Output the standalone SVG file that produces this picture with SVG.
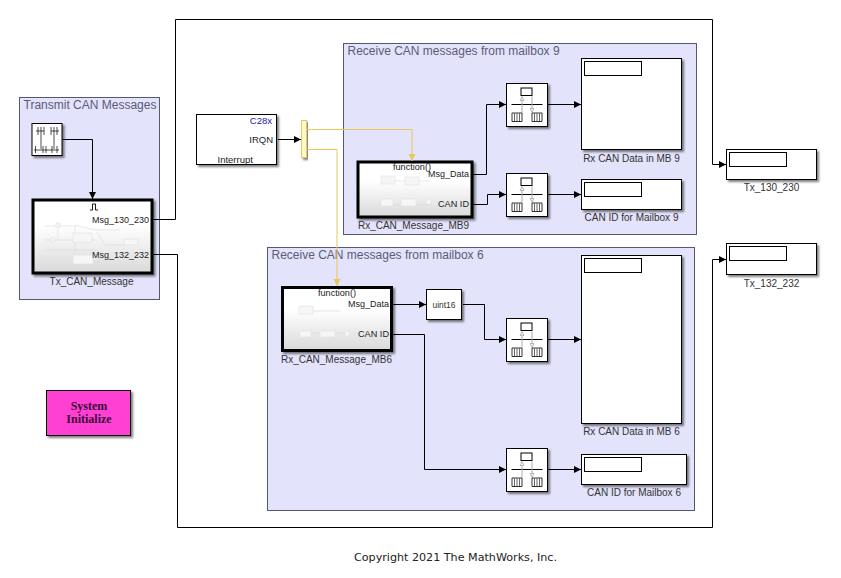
<svg xmlns="http://www.w3.org/2000/svg" xmlns:xlink="http://www.w3.org/1999/xlink" width="841" height="578" viewBox="0 0 841 578">
<style>
text{font-family:"Liberation Sans",Arial,sans-serif;font-size:10px;fill:#333}
.p{font-size:9.500px;fill:#222}
.area{fill:#e3e3fb;stroke:#55586e;stroke-width:1}
.title{font-size:12px;fill:#5c5c78}
.blk{fill:#fff;stroke:#000;stroke-width:1;filter:url(#sh)}
.sub{fill:url(#gr);stroke:#000;stroke-width:3;filter:url(#sh)}
.inner{fill:#fff;stroke:#000;stroke-width:1}
.sig{fill:none;stroke:#000;stroke-width:1}
.fn{fill:none;stroke:#e8c85c;stroke-width:1}
.ghost{fill:#f6f6f6;stroke:#e2e2e2;stroke-width:.6}
.gl{fill:none;stroke:#d8d8d8;stroke-width:.6}
.c{text-anchor:middle}.e{text-anchor:end}
</style>
<defs>
<filter id="sh" x="-10%" y="-10%" width="125%" height="125%"><feDropShadow dx="2" dy="2" stdDeviation="1.2" flood-color="#000" flood-opacity=".5"/></filter>
<linearGradient id="gr" x1="0" y1="0" x2="0" y2="1"><stop offset=".35" stop-color="#fff"/><stop offset="1" stop-color="#d9d9d9"/></linearGradient>
<marker id="a" markerWidth="8" markerHeight="8" refX="7" refY="3.5" orient="auto" markerUnits="userSpaceOnUse"><path d="M0 0L7 3.5L0 7Z" fill="#000"/></marker>
<marker id="y" markerWidth="8" markerHeight="8" refX="7" refY="3.5" orient="auto" markerUnits="userSpaceOnUse"><path d="M0 0L7 3.5L0 7Z" fill="#e8c85c"/></marker>
<g id="rt">
<rect class="blk" width="41" height="43"/>
<rect x="14.500" y="4.500" width="11" height="7.500" class="inner"/>
<path d="M5 21H36" stroke="#000"/>
<path d="M15.500 29V14M25.500 13V28" stroke="#aaa"/>
<path d="M13.500 17L15.500 13L17.500 17ZM23.500 25L25.500 29L27.500 25Z" fill="#eee" stroke="#999" stroke-width=".6"/>
<path d="M5.500 29.500H15.500V38H5.500ZM25.500 29.500H35.500V38H25.500Z" fill="#fff" stroke="#000" stroke-width=".8"/>
<path d="M8 30V38M10.500 30V38M13 30V38M28 30V38M30.500 30V38M33 30V38" stroke="#000" stroke-width=".6"/>
</g>
</defs>
<rect width="841" height="578" fill="#fff"/>
<g id="area-tx"><rect class="area" x="19.500" y="97.500" width="140" height="202"/><text class="title" x="23.500" y="109">Transmit CAN Messages</text></g>
<g id="area-mb9"><rect class="area" x="343.500" y="43.500" width="353" height="191"/><text class="title" x="347.500" y="55">Receive CAN messages from mailbox 9</text></g>
<g id="area-mb6"><rect class="area" x="267.500" y="247.500" width="427" height="263"/><text class="title" x="271.500" y="259">Receive CAN messages from mailbox 6</text></g>

<g id="signal-builder"><rect class="blk" x="32" y="123.500" width="30" height="32"/>
<path d="M36 131H44M51 131H59M38 127V135M41 127V149M44 127V135M51 127V135M54 127V149M57 127V135M34 150H59M35.500 146V153M43 146V153M46 146V153M52 146V153M57 146V153" stroke="#000" stroke-width=".7" fill="none"/></g>

<g id="tx-can-message"><rect class="sub" x="33" y="200" width="119" height="73"/>
<path class="gl" d="M45 226H75V255M58 226V239M45 240H95M45 250H95M75 225L95 230H120M97 232L105 245H125M83 252V262H100"/>
<rect class="ghost" x="56" y="223" width="4" height="4"/><rect class="ghost" x="51" y="238" width="4" height="4"/><rect class="ghost" x="73" y="233" width="19" height="9"/><rect class="ghost" x="124" y="239" width="14" height="6"/><rect class="ghost" x="73" y="255" width="20" height="9"/>
<path d="M90 210H92.500V204H95.500V210H98" fill="none" stroke="#000" stroke-width=".9"/>
<text class="p" x="92" y="222.500" textLength="57" lengthAdjust="spacingAndGlyphs">Msg_130_230</text><text class="p" x="92" y="257.500" textLength="57" lengthAdjust="spacingAndGlyphs">Msg_132_232</text>
<text class="c" x="91.500" y="285">Tx_CAN_Message</text></g>

<g id="interrupt"><rect class="blk" x="196.500" y="114.500" width="80" height="50"/>
<text class="e p" x="272" y="124" style="fill:#22229a">C28x</text><text class="e p" x="273" y="143">IRQN</text><text class="p" x="217.500" y="163">Interrupt</text></g>

<g id="mux"><rect x="301.500" y="120.500" width="5" height="37" fill="#fdf9c8" stroke="#e8c85c" style="filter:url(#sh)"/></g>

<g id="rx-mb9"><rect class="sub" x="358" y="162" width="114" height="55"/>
<path class="gl" d="M394 181H430M380 205H432"/>
<rect class="ghost" x="381" y="176" width="14" height="8"/><rect class="ghost" x="405" y="177" width="14" height="8"/><rect class="ghost" x="381" y="199" width="12" height="7"/><rect class="ghost" x="401" y="199" width="15" height="7"/><rect class="ghost" x="426" y="199" width="5" height="5"/>
<text class="p" x="393" y="170" textLength="38" lengthAdjust="spacingAndGlyphs">function()</text><text class="p" x="428" y="177" textLength="41" lengthAdjust="spacingAndGlyphs">Msg_Data</text><text class="p" x="438" y="207" textLength="31" lengthAdjust="spacingAndGlyphs">CAN ID</text>
<text class="c" x="413.500" y="229">Rx_CAN_Message_MB9</text></g>

<g id="rx-mb6"><rect class="sub" x="282.500" y="287.500" width="109" height="63"/>
<path class="gl" d="M300 311H340M300 333H345"/>
<rect class="ghost" x="299" y="306" width="14" height="8"/><rect class="ghost" x="300" y="331" width="11" height="6"/><rect class="ghost" x="320" y="331" width="15" height="6"/><rect class="ghost" x="345" y="331" width="4" height="5"/>
<text class="p" x="318" y="296" textLength="38" lengthAdjust="spacingAndGlyphs">function()</text><text class="p" x="348" y="307" textLength="41" lengthAdjust="spacingAndGlyphs">Msg_Data</text><text class="p" x="358" y="337" textLength="31" lengthAdjust="spacingAndGlyphs">CAN ID</text>
<text class="c" x="336.500" y="363">Rx_CAN_Message_MB6</text></g>

<g id="uint16"><rect class="blk" x="426.500" y="289.500" width="35" height="30"/><text class="c" x="444" y="307.500" style="font-size:8.500px">uint16</text></g>

<g id="rate-1"><use xlink:href="#rt" href="#rt" x="506.500" y="83.500"/></g>
<g id="rate-2"><use xlink:href="#rt" href="#rt" x="506.500" y="173.500"/></g>
<g id="rate-3"><use xlink:href="#rt" href="#rt" x="506.500" y="318.500"/></g>
<g id="rate-4"><use xlink:href="#rt" href="#rt" x="506.500" y="448.500"/></g>

<g id="scope-mb9"><rect class="blk" x="581.500" y="58.500" width="100" height="91"/><rect class="inner" x="584.500" y="61.500" width="57" height="14"/><text class="c" x="631.500" y="162">Rx CAN Data in MB 9</text></g>
<g id="scope-id9"><rect class="blk" x="581.500" y="179.500" width="100" height="30"/><rect class="inner" x="584.500" y="182.500" width="57" height="14"/><text class="c" x="631.500" y="221">CAN ID for Mailbox 9</text></g>
<g id="scope-mb6"><rect class="blk" x="581.500" y="255.500" width="100" height="168"/><rect class="inner" x="584.500" y="258.500" width="57" height="14"/><text class="c" x="631.500" y="435">Rx CAN Data in MB 6</text></g>
<g id="scope-id6"><rect class="blk" x="581.500" y="454.500" width="105" height="30"/><rect class="inner" x="584.500" y="457.500" width="57" height="14"/><text class="c" x="634" y="496">CAN ID for Mailbox 6</text></g>
<g id="tx-130"><rect class="blk" x="726.500" y="149.500" width="90" height="30"/><rect class="inner" x="729.500" y="152.500" width="57" height="14"/><text class="c" x="771.500" y="191">Tx_130_230</text></g>
<g id="tx-132"><rect class="blk" x="726.500" y="243.500" width="90" height="31"/><rect class="inner" x="729.500" y="246.500" width="57" height="14"/><text class="c" x="771.500" y="287">Tx_132_232</text></g>

<g id="system-initialize"><rect x="46.500" y="390.500" width="84" height="45" fill="#ff40d2" stroke="#000" style="filter:url(#sh)"/>
<text class="c" x="89" y="410" style="font-family:'Liberation Serif',serif;font-weight:bold;font-size:12px;fill:#3a0a3a">System</text><text class="c" x="89" y="423" style="font-family:'Liberation Serif',serif;font-weight:bold;font-size:12px;fill:#3a0a3a">Initialize</text></g>

<g id="connectors">
<path class="sig" marker-end="url(#a)" d="M63 139.500H92.500V199"/>
<path class="sig" marker-end="url(#a)" d="M153 219.500H175.500V19.500H712.500V164.500H726"/>
<path class="sig" marker-end="url(#a)" d="M153 254.500H177.500V527.500H712.500V259.500H726"/>
<path class="sig" marker-end="url(#a)" d="M278 139.500H301"/>
<path class="fn" marker-end="url(#y)" d="M307 129.500H412V161"/>
<path class="fn" marker-end="url(#y)" d="M307 149.500H337V286"/>
<path class="sig" marker-end="url(#a)" d="M473 174.500H486.500V104.500H506"/>
<path class="sig" marker-end="url(#a)" d="M473 204.500H487.500V194.500H506"/>
<path class="sig" marker-end="url(#a)" d="M548 104.500H581"/>
<path class="sig" marker-end="url(#a)" d="M548 194.500H581"/>
<path class="sig" marker-end="url(#a)" d="M393 304.500H426"/>
<path class="sig" marker-end="url(#a)" d="M463 304.500H484.500V339.500H506"/>
<path class="sig" marker-end="url(#a)" d="M548 339.500H581"/>
<path class="sig" marker-end="url(#a)" d="M393 334.500H424.500V469.500H506"/>
<path class="sig" marker-end="url(#a)" d="M548 469.500H581"/>
</g>
<text id="copyright" x="354" y="561" textLength="203" lengthAdjust="spacingAndGlyphs" style="font-family:'DejaVu Sans',sans-serif;font-size:11px;fill:#222">Copyright 2021 The MathWorks, Inc.</text>
</svg>
